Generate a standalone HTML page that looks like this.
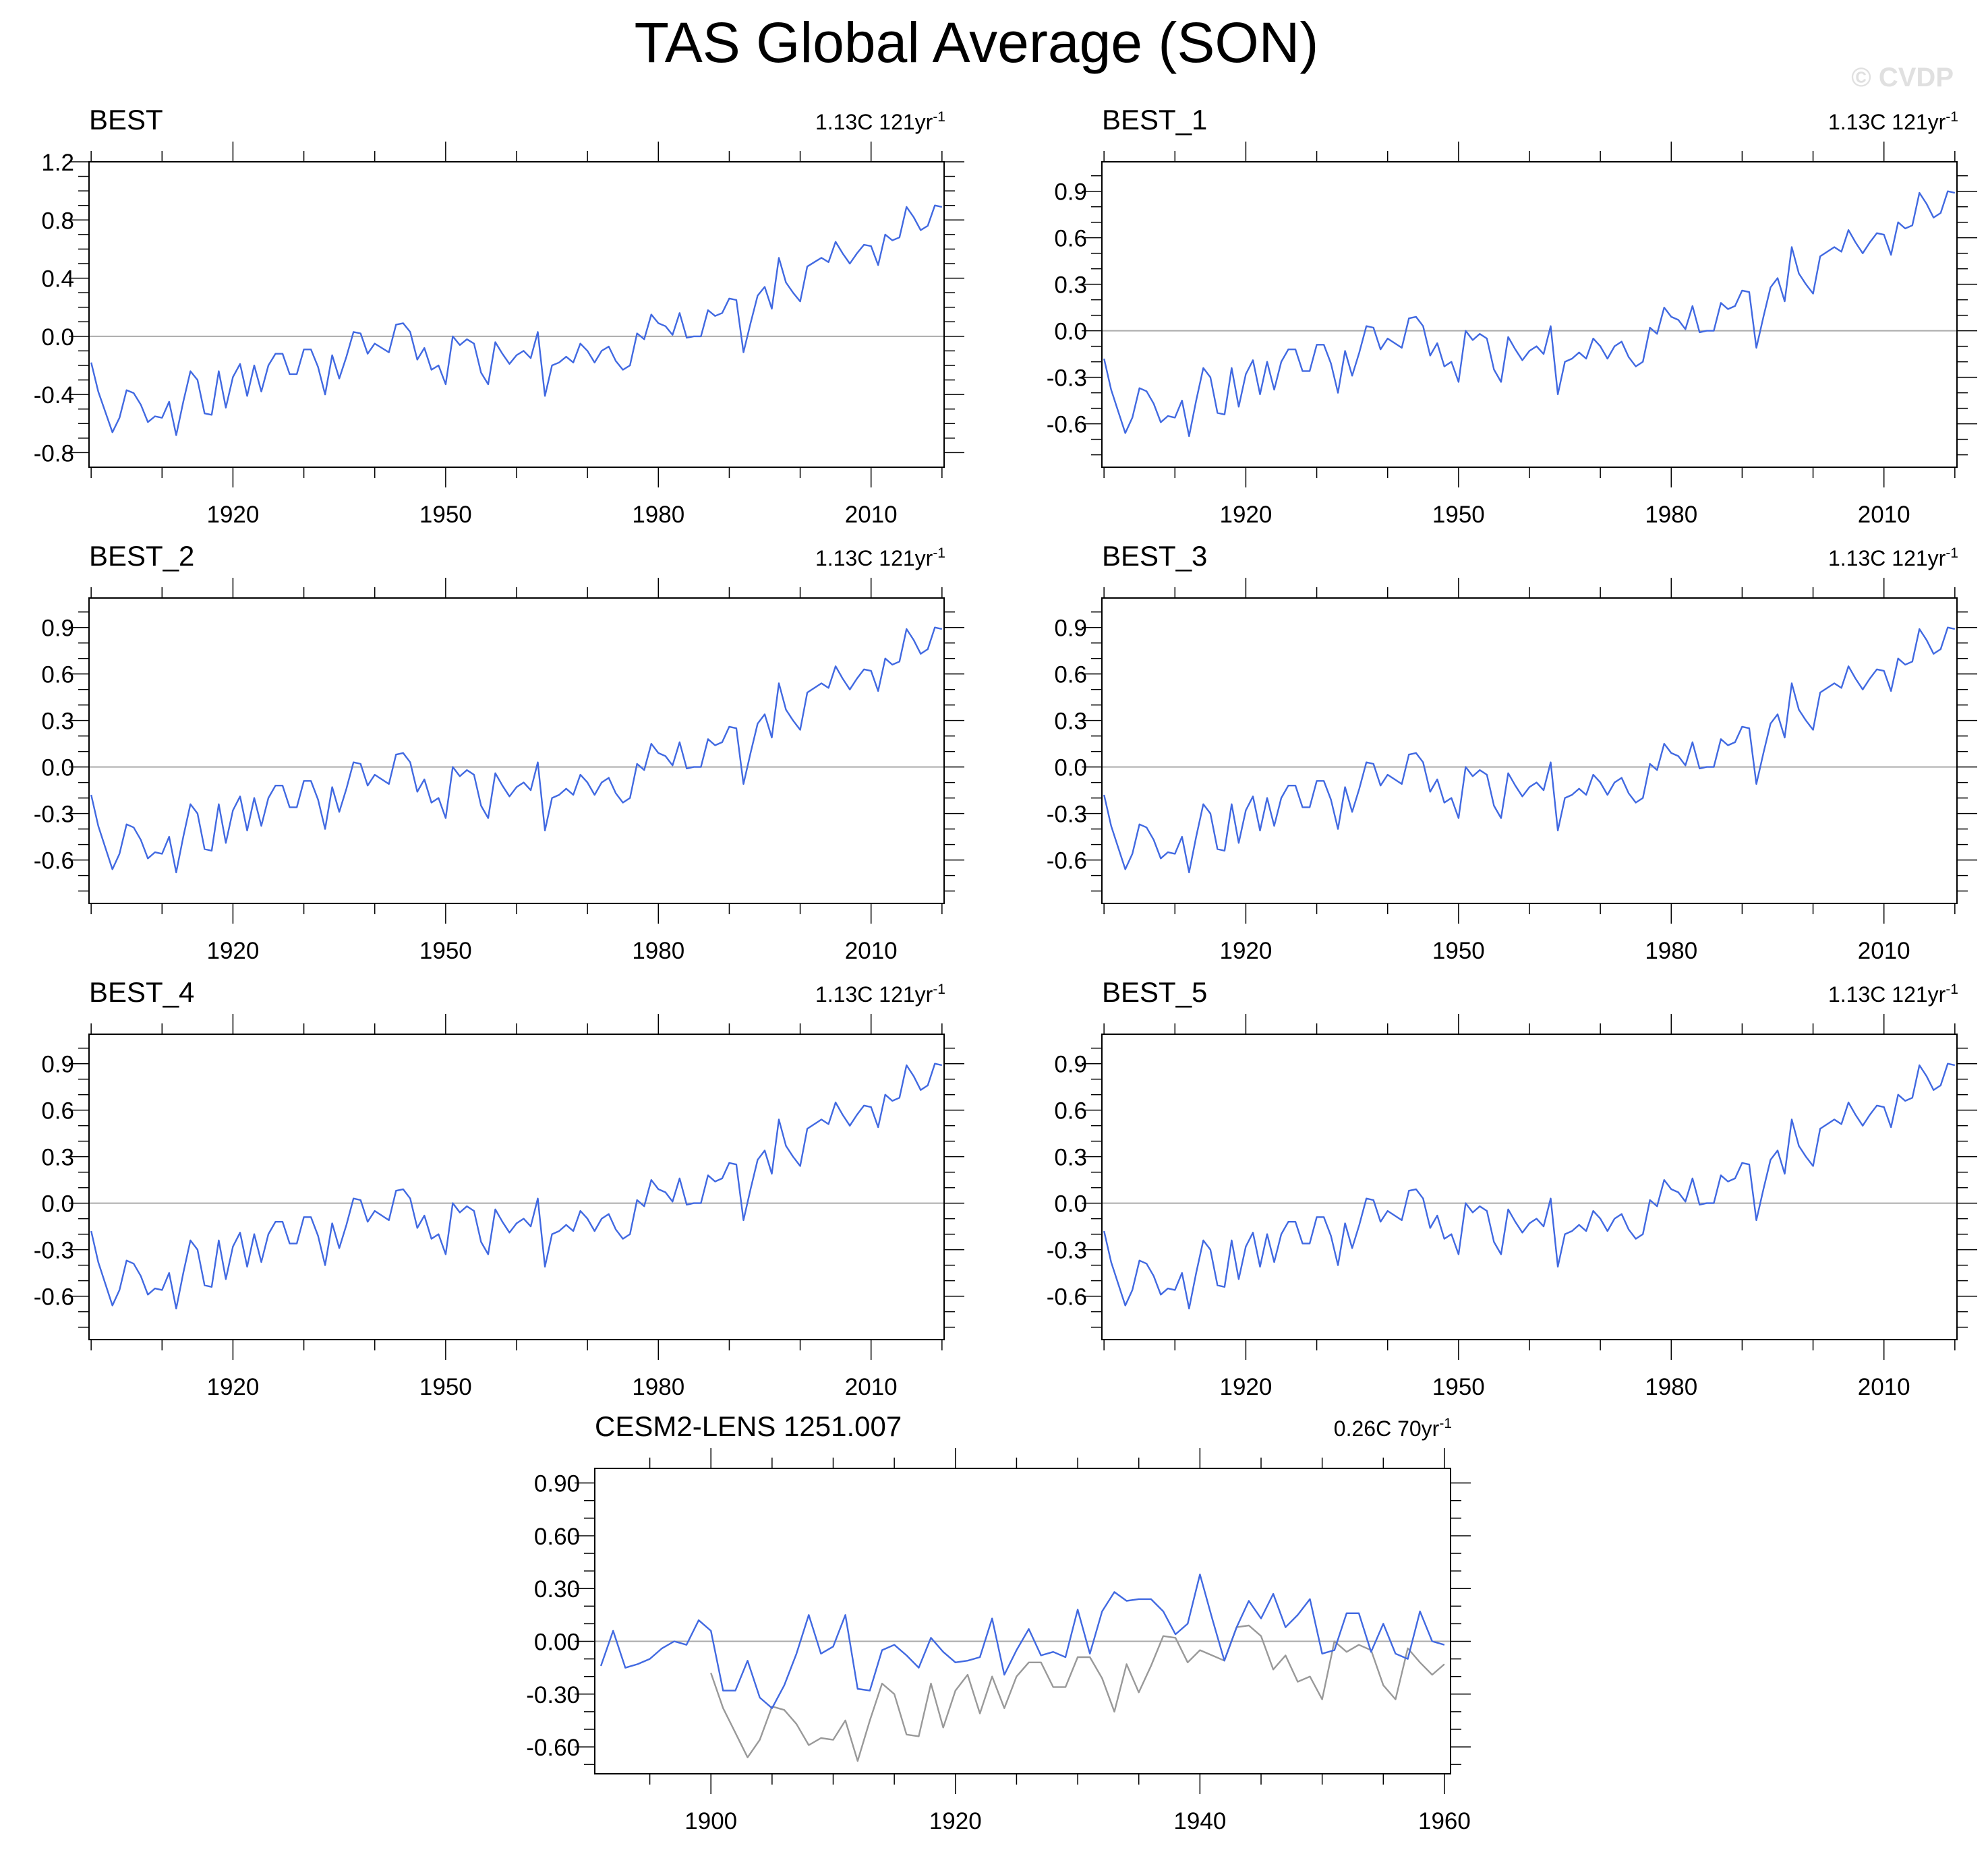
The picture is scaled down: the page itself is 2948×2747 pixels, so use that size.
<!DOCTYPE html>
<html><head><meta charset="utf-8"><style>
html,body{margin:0;padding:0;background:#fff;}
svg{display:block;font-family:"Liberation Sans",sans-serif;}
</style></head><body>
<svg id="fig" width="2948" height="2747" viewBox="0 0 2948 2747" xmlns="http://www.w3.org/2000/svg">
<text x="1448" y="92" font-size="84" text-anchor="middle" fill="#000">TAS Global Average (SON)</text>
<text x="2897" y="128" font-size="40" font-weight="bold" text-anchor="end" fill="#e0e0e0">© CVDP</text>
</svg>
<script>
const obsYears = [1900, 2020];
const obsValues = [-0.18,-0.38,-0.52,-0.66,-0.56,-0.37,-0.39,-0.47,-0.59,-0.55,-0.56,-0.45,-0.68,-0.45,-0.24,-0.30,-0.53,-0.54,-0.24,-0.49,
-0.28,-0.19,-0.41,-0.20,-0.38,-0.20,-0.12,-0.12,-0.26,-0.26,-0.09,-0.09,-0.21,-0.40,-0.13,-0.29,-0.14,0.03,0.02,-0.12,
-0.05,-0.08,-0.11,0.08,0.09,0.03,-0.16,-0.08,-0.23,-0.20,-0.33,0.00,-0.06,-0.02,-0.05,-0.25,-0.33,-0.04,-0.12,-0.19,
-0.13,-0.10,-0.15,0.03,-0.41,-0.20,-0.18,-0.14,-0.18,-0.05,-0.10,-0.18,-0.10,-0.07,-0.17,-0.23,-0.20,0.02,-0.02,0.15,
0.09,0.07,0.01,0.16,-0.01,0.00,0.00,0.18,0.14,0.16,0.26,0.25,-0.11,0.09,0.28,0.34,0.19,0.54,0.37,0.30,
0.24,0.48,0.51,0.54,0.51,0.65,0.57,0.50,0.57,0.63,0.62,0.49,0.70,0.66,0.68,0.89,0.82,0.73,0.76,0.90,0.89];
const modelYears = [1891, 1960];
const modelValues = [-0.14,0.06,-0.15,-0.13,-0.10,-0.04,0.00,-0.02,0.12,0.06,-0.28,-0.28,-0.11,-0.32,-0.38,-0.25,-0.07,0.15,-0.07,-0.03,
0.15,-0.27,-0.28,-0.05,-0.02,-0.08,-0.15,0.02,-0.06,-0.12,-0.11,-0.09,0.13,-0.19,-0.05,0.07,-0.08,-0.06,-0.09,0.18,
-0.07,0.17,0.28,0.23,0.24,0.24,0.17,0.04,0.10,0.38,0.13,-0.11,0.08,0.23,0.13,0.27,0.08,0.15,0.24,-0.07,
-0.05,0.16,0.16,-0.06,0.10,-0.07,-0.10,0.17,0.00,-0.02];
const obsPanelNames = ["BEST","BEST_1","BEST_2","BEST_3","BEST_4","BEST_5"];
const obsXTicks = [1920,1950,1980,2010];
const yTicksA = [-0.8,-0.4,0.0,0.4,0.8,1.2];
const yTicksB = [-0.6,-0.3,0.0,0.3,0.6,0.9];
const modelXTicks = [1900,1920,1940,1960];
const trendObs = "1.13C 121yr";
const trendModel = "0.26C 70yr";

const NS = "http://www.w3.org/2000/svg";
const svg = document.getElementById('fig');
function mk(tag, attrs, parent){
  const e = document.createElementNS(NS, tag);
  for (const k in attrs) e.setAttribute(k, attrs[k]);
  (parent||svg).appendChild(e);
  return e;
}

function panel(o){
  const g = mk('g', {});
  
  
  const L=o.x, T=o.y, W=o.w, H=o.h, R=L+W, B=T+H;
  const sx = v => L + (v - o.xmin)/(o.xmax - o.xmin)*W;
  const sy = v => T + (o.ymax - v)/(o.ymax - o.ymin)*H;
  const t = mk('text', {x:L, y:T-48, 'font-size':42, fill:'#000'}, g);
  t.textContent = o.title;
  
  
  const tr = mk('text', {x:R+2, y:T-48, 'font-size':32, 'text-anchor':'end', fill:'#000'}, g);
  tr.textContent = o.trend;
  const sup = mk('tspan', {dy:-12, 'font-size':21}, tr);
  sup.textContent = '-1';
  
  
  const z = mk('line', {x1:L, x2:R, y1:sy(0), y2:sy(0), stroke:'#aaa', 'stroke-width':2}, g);
  
  
  for (let yr = o.minorStart; yr <= o.xmax; yr += o.xMinor){
    const isMajor = o.xTicks.indexOf(yr) >= 0;
    const len = isMajor ? 30 : 16;
    const X = sx(yr);
    mk('line', {x1:X, x2:X, y1:T, y2:T-len, stroke:'#000', 'stroke-width':1.5}, g);
    mk('line', {x1:X, x2:X, y1:B, y2:B+len, stroke:'#000', 'stroke-width':1.5}, g);
  }
  o.xTicks.forEach(yr => {
    const lb = mk('text', {x:sx(yr), y:B+82, 'font-size':35, 'text-anchor':'middle', fill:'#000'}, g);
    lb.textContent = yr;
    
    
  });
  const y0 = Math.ceil((o.ymin+1e-9)*10)/10;
  for (let v = y0; v <= o.ymax + 1e-9; v = Math.round((v+0.1)*10)/10){
    const isMajor = o.yTicks.some(t => Math.abs(t - v) < 1e-6);
    const len = isMajor ? 30 : 16;
    const Y = sy(v);
    mk('line', {x1:L, x2:L-len, y1:Y, y2:Y, stroke:'#000', 'stroke-width':1.5}, g);
    mk('line', {x1:R, x2:R+len, y1:Y, y2:Y, stroke:'#000', 'stroke-width':1.5}, g);
  }
  o.yTicks.forEach(v => {
    const lb = mk('text', {x:L-22, y:sy(v)+13, 'font-size':35, 'text-anchor':'end', fill:'#000'}, g);
    lb.textContent = v.toFixed(o.yDec);
    
    
  });
  o.series.forEach(s => {
    const pts = s.values.map((v,i) => sx(s.start + i).toFixed(1) + ',' + sy(v).toFixed(1)).join(' ');
    const pl = mk('polyline', {points:pts, fill:'none', stroke:s.color, 'stroke-width':2.4, 'stroke-linejoin':'round'}, g);
    
    
  });
  const fr = mk('rect', {x:L, y:T, width:W, height:H, fill:'none', stroke:'#000', 'stroke-width':2}, g);
  
  
}

const cols = [132, 1634];
const rows = [240, 887, 1534];
obsPanelNames.forEach((nm, i) => {
  const first = i === 0;
  panel({
    name: nm.toLowerCase().replace('_','-'), title: nm, trend: trendObs,
    x: cols[i%2], y: rows[Math.floor(i/2)], w: 1268, h: 453,
    xmin: obsYears[0]-0.3, xmax: obsYears[1]+0.3, xTicks: obsXTicks, xMinor: 10, minorStart: 1900,
    ymin: first ? -0.9 : -0.88, ymax: first ? 1.2 : 1.09,
    yTicks: first ? yTicksA : yTicksB, yDec: 1,
    series: [{name:'obs-series', values: obsValues, start: obsYears[0], color:'#4169e1'}]
  });
});
const obsOverlap = obsValues.slice(0, modelYears[1] - obsYears[0] + 1);
panel({
  name: 'cesm2-lens', title: 'CESM2-LENS 1251.007', trend: trendModel,
  x: 882, y: 2178, w: 1269, h: 453,
  xmin: 1890.5, xmax: 1960.5, xTicks: modelXTicks, xMinor: 5, minorStart: 1895,
  ymin: -0.753, ymax: 0.983, yTicks: [-0.6,-0.3,0.0,0.3,0.6,0.9], yDec: 2,
  series: [
    {name:'obs-overlay-series', values: obsOverlap, start: obsYears[0], color:'#999999'},
    {name:'model-series', values: modelValues, start: modelYears[0], color:'#4169e1'}
  ]
});
</script>
</body></html>
